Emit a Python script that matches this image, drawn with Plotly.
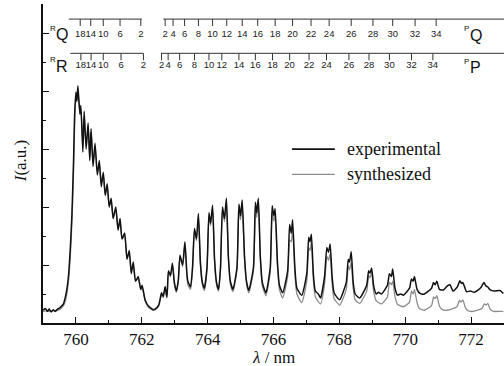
import plotly.graph_objects as go

# ---------------- data ----------------
exp_nm = [759.00, 759.07, 759.13, 759.19, 759.25, 759.31, 759.37, 759.44, 759.51, 759.58,
          759.62, 759.68, 759.73, 759.78, 759.83, 759.88, 759.93, 759.96, 760.00, 760.03,
          760.06, 760.12, 760.15, 760.21, 760.25, 760.31, 760.37, 760.42, 760.46, 760.52,
          760.58, 760.65, 760.71, 760.77, 760.83, 760.89, 760.95, 761.01, 761.07, 761.13,
          761.21, 761.28, 761.34, 761.40, 761.48, 761.55, 761.62, 761.68, 761.74, 761.81,
          761.89, 761.97, 762.01, 762.10, 762.19,
          762.25, 762.35, 762.45, 762.52,
          762.56, 762.60, 762.65, 762.71, 762.76,
          762.78, 762.81, 762.87, 762.93, 762.99, 763.05,
          763.11, 763.16, 763.24, 763.31, 763.37, 763.40, 763.48,
          763.54, 763.60, 763.66, 763.72, 763.78, 763.84, 763.90,
          763.98, 764.04, 764.09, 764.15, 764.21, 764.27, 764.33,
          764.39, 764.45, 764.51, 764.57, 764.63, 764.69, 764.77,
          764.89, 764.95, 765.00, 765.05, 765.12, 765.18, 765.25,
          765.39, 765.45, 765.49, 765.54, 765.60, 765.66, 765.77,
          765.90, 765.96, 766.01, 766.05, 766.12, 766.18, 766.28,
          766.43, 766.49, 766.54, 766.58, 766.65, 766.71, 766.86,
          767.01, 767.07, 767.11, 767.15, 767.21, 767.27, 767.36, 767.43,
          767.55, 767.62, 767.67, 767.72, 767.78, 767.84, 767.92, 768.01,
          768.21, 768.27, 768.31, 768.36, 768.42, 768.48, 768.62,
          768.83, 768.89, 768.93, 768.98, 769.04, 769.12, 769.19, 769.28,
          769.46, 769.52, 769.58, 769.62, 769.69, 769.77, 769.86, 769.95,
          770.13, 770.19, 770.24, 770.28, 770.36, 770.45, 770.58,
          770.80, 770.86, 770.91, 770.96, 771.04, 771.16, 771.28, 771.36, 771.45,
          771.58, 771.66, 771.71, 771.75, 771.86, 771.98, 772.10, 772.22,
          772.31, 772.39, 772.45, 772.51, 772.58, 772.71, 772.88, 772.98]
exp_int = [0.22, 0.25, 0.20, 0.24, 0.19, 0.23, 0.20, 0.24, 0.26, 0.30,
           0.33, 0.45, 0.60, 0.85, 1.30, 1.90, 2.85, 3.60, 3.98, 3.82,
           4.09, 3.60, 3.75, 2.95, 3.65, 3.00, 3.45, 2.80, 3.35, 2.70,
           3.10, 2.55, 2.80, 2.35, 2.60, 2.20, 2.40, 2.00, 2.15, 1.80,
           2.00, 1.60, 1.80, 1.45, 1.55, 1.10, 1.25, 0.85, 1.05, 0.72,
           0.80, 0.58, 0.65, 0.40, 0.30,
           0.27, 0.23, 0.26, 0.32,
           0.42, 0.52, 0.46, 0.63, 0.45,
           0.60, 0.90, 0.82, 1.03, 0.70, 0.55,
           0.75, 1.17, 1.00, 1.40, 0.85, 0.72, 0.62,
           0.95, 1.63, 1.45, 1.89, 1.05, 0.70, 0.60,
           0.95, 1.90, 1.72, 2.03, 1.10, 0.70, 0.58,
           0.95, 2.00, 1.80, 2.15, 1.15, 0.72, 0.58,
           0.95, 2.05, 1.85, 2.12, 1.15, 0.72, 0.56,
           0.95, 2.08, 1.90, 2.15, 1.15, 0.70, 0.52,
           0.95, 2.02, 1.85, 1.97, 1.05, 0.65, 0.52,
           0.90, 1.70, 1.55, 1.78, 0.95, 0.60, 0.48,
           0.85, 1.48, 1.40, 1.53, 0.85, 0.55, 0.50, 0.43,
           0.80, 1.30, 1.22, 1.36, 0.80, 0.52, 0.45, 0.40,
           0.70, 1.10, 1.05, 1.23, 0.70, 0.50, 0.43,
           0.65, 0.90, 0.86, 0.95, 0.65, 0.50, 0.53, 0.50,
           0.65, 0.85, 0.80, 0.93, 0.60, 0.48, 0.50, 0.48,
           0.60, 0.76, 0.72, 0.80, 0.58, 0.51, 0.50,
           0.60, 0.70, 0.66, 0.72, 0.58, 0.57, 0.64, 0.66, 0.55,
           0.62, 0.73, 0.68, 0.70, 0.54, 0.55, 0.53, 0.57,
           0.62, 0.70, 0.64, 0.62, 0.57, 0.55, 0.56, 0.51]

syn_nm = [759.00, 759.10, 759.20, 759.30, 759.40, 759.50, 759.58, 759.62, 759.68, 759.73,
          759.78, 759.83, 759.88, 759.93, 759.96, 760.00, 760.03, 760.06, 760.12, 760.15,
          760.21, 760.25, 760.31, 760.37, 760.42, 760.46, 760.52, 760.58, 760.65, 760.71,
          760.77, 760.83, 760.89, 760.95, 761.01, 761.07, 761.13, 761.21, 761.28, 761.34,
          761.40, 761.48, 761.55, 761.62, 761.68, 761.74, 761.81, 761.89, 761.97, 762.01,
          762.10, 762.19,
          762.25, 762.35, 762.45, 762.52,
          762.56, 762.60, 762.65, 762.71, 762.76,
          762.78, 762.81, 762.87, 762.93, 762.99, 763.05,
          763.11, 763.16, 763.24, 763.31, 763.37, 763.40, 763.48,
          763.54, 763.60, 763.66, 763.72, 763.78, 763.84, 763.90,
          763.98, 764.04, 764.09, 764.15, 764.21, 764.27, 764.33,
          764.39, 764.45, 764.51, 764.57, 764.63, 764.69, 764.77,
          764.89, 764.95, 765.00, 765.05, 765.12, 765.18, 765.25,
          765.39, 765.45, 765.49, 765.54, 765.60, 765.66, 765.77,
          765.90, 765.96, 766.01, 766.05, 766.12, 766.18, 766.28,
          766.43, 766.49, 766.54, 766.58, 766.65, 766.71, 766.86,
          767.01, 767.07, 767.11, 767.15, 767.21, 767.27, 767.43,
          767.55, 767.62, 767.67, 767.72, 767.78, 767.84, 768.01,
          768.21, 768.27, 768.31, 768.36, 768.42, 768.48, 768.62,
          768.83, 768.89, 768.93, 768.98, 769.04, 769.12, 769.28,
          769.46, 769.52, 769.58, 769.62, 769.69, 769.77, 769.95,
          770.13, 770.19, 770.24, 770.28, 770.36, 770.43, 770.58,
          770.80, 770.86, 770.91, 770.96, 771.04, 771.13, 771.28,
          771.57, 771.65, 771.70, 771.75, 771.83, 771.92, 772.07,
          772.33, 772.40, 772.46, 772.51, 772.58, 772.68, 772.88, 772.98]
syn_int = [0.20, 0.21, 0.20, 0.21, 0.21, 0.23, 0.27, 0.30, 0.38, 0.52,
           0.75, 1.15, 1.75, 2.65, 3.40, 3.90, 3.85, 4.02, 3.62, 3.70,
           3.05, 3.55, 3.05, 3.40, 2.85, 3.30, 2.75, 3.05, 2.60, 2.75,
           2.40, 2.55, 2.22, 2.35, 2.02, 2.10, 1.82, 1.95, 1.62, 1.75,
           1.45, 1.50, 1.12, 1.20, 0.88, 1.00, 0.72, 0.77, 0.57, 0.62,
           0.38, 0.28,
           0.25, 0.22, 0.25, 0.30,
           0.40, 0.50, 0.44, 0.60, 0.43,
           0.58, 0.88, 0.80, 1.00, 0.67, 0.53,
           0.72, 1.15, 0.97, 1.35, 0.82, 0.66, 0.58,
           0.92, 1.60, 1.42, 1.82, 1.00, 0.66, 0.56,
           0.92, 1.85, 1.68, 1.97, 1.05, 0.66, 0.55,
           0.92, 1.95, 1.75, 2.08, 1.10, 0.68, 0.54,
           0.92, 1.95, 1.78, 2.05, 1.10, 0.68, 0.52,
           0.90, 1.97, 1.82, 2.07, 1.10, 0.64, 0.47,
           0.88, 1.90, 1.75, 1.88, 0.98, 0.58, 0.43,
           0.80, 1.43, 1.40, 1.60, 0.85, 0.50, 0.35,
           0.72, 1.30, 1.25, 1.40, 0.75, 0.45, 0.33,
           0.66, 1.15, 1.08, 1.20, 0.68, 0.42, 0.31,
           0.58, 0.98, 0.92, 1.05, 0.60, 0.40, 0.34,
           0.55, 0.82, 0.78, 0.88, 0.55, 0.38, 0.33,
           0.45, 0.70, 0.66, 0.72, 0.45, 0.32, 0.28,
           0.36, 0.55, 0.50, 0.58, 0.35, 0.25, 0.22,
           0.30, 0.45, 0.42, 0.47, 0.29, 0.23, 0.22,
           0.28, 0.39, 0.36, 0.40, 0.26, 0.21, 0.20,
           0.25, 0.33, 0.31, 0.34, 0.24, 0.20, 0.20, 0.20]

# rotational line assignments (branch rulers)
rq_N = [18, 14, 10, 6, 2]
rq_nm = [760.13, 760.45, 760.83, 761.34, 761.97]
rr_N = [18, 14, 10, 6, 2]
rr_nm = [760.15, 760.46, 760.83, 761.37, 762.05]
pq_N = [2, 4, 6, 8, 10, 12, 14, 16, 18, 20, 22, 24, 26, 28, 30, 32, 34]
pq_nm = [762.71, 762.95, 763.30, 763.72, 764.15, 764.58, 765.05, 765.52, 766.05,
         766.58, 767.14, 767.69, 768.36, 769.02, 769.62, 770.30, 770.94]
pp_N = [2, 4, 6, 8, 10, 12, 14, 16, 18, 20, 22, 24, 26, 28, 30, 32, 34]
pp_nm = [762.60, 762.80, 763.15, 763.60, 764.04, 764.43, 764.95, 765.45, 765.97,
         766.49, 767.08, 767.61, 768.29, 768.90, 769.52, 770.19, 770.84]
x_ticks = [760, 762, 764, 766, 768, 770, 772]
series_names = ["experimental", "synthesized"]
series_colors = ["#111111", "#8c8c8c"]

# ---------------- figure ----------------
SERIF = "Liberation Serif"
SANS = "Liberation Sans"

fig = go.Figure()
fig.add_trace(go.Scatter(x=syn_nm, y=syn_int, mode="lines", name=series_names[1],
                         showlegend=False,
                         line=dict(color=series_colors[1], width=1.3, shape="spline", smoothing=0.5)))
fig.add_trace(go.Scatter(x=exp_nm, y=exp_int, mode="lines", name=series_names[0],
                         showlegend=False,
                         line=dict(color=series_colors[0], width=1.5, shape="spline", smoothing=0.5)))


def ruler(tick_nm, labels, seg, y_line, y_end, y_lab):
    xs, ys = [seg[0], seg[1], None], [y_line, y_line, None]
    for t in tick_nm:
        xs += [t, t, None]
        ys += [y_line, y_end, None]
    fig.add_trace(go.Scatter(x=xs, y=ys, mode="lines", showlegend=False, hoverinfo="skip",
                             line=dict(color="#333333", width=1)))
    fig.add_trace(go.Scatter(x=tick_nm, y=[y_lab] * len(tick_nm), mode="text",
                             text=[str(n) for n in labels], showlegend=False, hoverinfo="skip",
                             textfont=dict(family=SANS, size=9.5, color="#222222")))


ruler(rq_nm, rq_N, (759.78, 762.00), 5.24, 5.12, 4.97)
ruler(pq_nm, pq_N, (762.65, 773.2), 5.24, 5.12, 4.97)
ruler(rr_nm, rr_N, (759.83, 762.05), 4.65, 4.53, 4.43)
ruler(pp_nm, pp_N, (762.58, 773.2), 4.65, 4.53, 4.43)

branch_labels = [
    (759.30, 5.08, "R", 8), (759.58, 4.97, "Q", 16),
    (759.30, 4.54, "R", 8), (759.57, 4.43, "R", 16),
    (771.87, 5.07, "P", 8), (772.16, 4.96, "Q", 16),
    (771.87, 4.51, "P", 8), (772.12, 4.40, "P", 16),
]
for bx, by, bt, bs in branch_labels:
    fig.add_annotation(x=bx, y=by, text=bt, showarrow=False,
                       font=dict(family=SANS, size=bs, color="#111111"),
                       xanchor="center", yanchor="middle")

# legend drawn as line samples + labels (paper coordinates)
for (ly, name, col, w) in [(0.545, series_names[0], series_colors[0], 1.6),
                           (0.466, series_names[1], series_colors[1], 1.4)]:
    fig.add_shape(type="line", xref="paper", yref="paper", x0=0.540, x1=0.633, y0=ly, y1=ly,
                  line=dict(color=col, width=w))
    fig.add_annotation(xref="paper", yref="paper", x=0.655, y=ly, text=name, showarrow=False,
                       xanchor="left", yanchor="middle",
                       font=dict(family=SERIF, size=18, color="#111111"))

fig.add_annotation(xref="paper", yref="paper", x=-0.05, y=0.51, text="<i>I</i>(a.u.)",
                   textangle=-90, showarrow=False, xanchor="center", yanchor="middle",
                   font=dict(family=SERIF, size=17, color="#111111"))
fig.add_annotation(xref="paper", yref="paper", x=0.5, y=-0.108, text="<i>λ</i> / nm",
                   showarrow=False, xanchor="center", yanchor="middle",
                   font=dict(family=SERIF, size=17, color="#111111"))

fig.update_layout(
    width=504, height=366,
    margin=dict(l=43, r=0, t=4, b=43),
    paper_bgcolor="white", plot_bgcolor="white",
    showlegend=False,
    xaxis=dict(range=[759, 773], showline=True, linecolor="#111111", linewidth=1.6,
               ticks="inside", ticklen=6, tickwidth=1.4, tickcolor="#111111",
               tickvals=x_ticks, showgrid=False, zeroline=False,
               tickfont=dict(family=SERIF, size=17, color="#111111"),
               minor=dict(dtick=1, tick0=759, ticks="inside", ticklen=3, tickcolor="#111111",
                          showgrid=False)),
    yaxis=dict(range=[0, 5.5], showline=True, linecolor="#111111", linewidth=1.6,
               ticks="inside", ticklen=6, tickwidth=1.4, tickcolor="#111111",
               tick0=0, dtick=1, showticklabels=False, showgrid=False, zeroline=False,
               minor=dict(dtick=0.5, tick0=0, ticks="inside", ticklen=3, tickcolor="#111111",
                          showgrid=False)),
)

fig.write_html("out.html", config={"displayModeBar": False},
               post_script="document.body.style.margin='0';")
